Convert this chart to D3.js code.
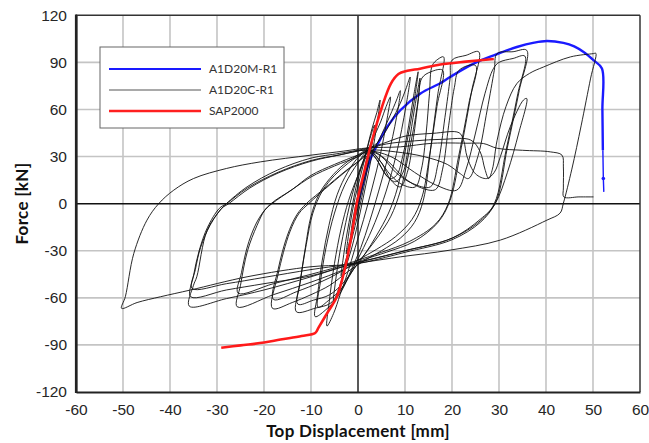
<!DOCTYPE html>
<html>
<head>
<meta charset="utf-8">
<script src="https://cdn.jsdelivr.net/npm/d3@7"></script>
<style>
  html, body { margin: 0; padding: 0; background: #fff; }
  svg { display: block; }
</style>
</head>
<body>
<svg id="chart" width="649" height="443"></svg>
<script>
// Axis ticks
const xTicks = [-60, -50, -40, -30, -20, -10, 0, 10, 20, 30, 40, 50, 60];
const yTicks = [-120, -90, -60, -30, 0, 30, 60, 90, 120];

// Series names shown in the legend
const seriesNames = ["A1D20M-R1", "A1D20C-R1", "SAP2000"];

// Monotonic test A1D20M-R1: [top displacement mm, force kN]
const monotonicMain = [
  [0, 0], [1, 12], [2, 23], [3, 31], [4.3, 38.5], [6.2, 48.9], [9, 59.5], [13.3, 70.2],
  [17.5, 76.7], [19.6, 80.7], [24.6, 89.2], [28.9, 94.5], [33.8, 99.8], [37.5, 102.6],
  [40.2, 103.6], [43.7, 102.4], [46, 100.2], [48, 96.6], [50.1, 91.4], [51.9, 86.1],
  [52, 60], [52.1, 34]
];
const monotonicTail = [[52.1, 34], [52.2, 16], [52.3, 7.5]];
const monotonicMarker = [52.2, 16];

// Pushover curve from SAP2000
const sapCurve = [
  [-29.1, -91.8], [-25, -90.3], [-20, -88.5], [-16.5, -86.6], [-12, -84.3], [-9.1, -82.4],
  [-8.4, -79], [-6.6, -69.9], [-4.5, -59.3], [-2.7, -40.2], [-1.3, -19], [-0.2, 1],
  [1.4, 21.3], [3, 40.4], [5.1, 61.6], [7, 76.5], [8.6, 82.6], [10.5, 84.6], [13.2, 86],
  [17.5, 88.6], [23, 90.5], [28.9, 92.2]
];

// Cyclic test A1D20C-R1, one row per loading cycle
const cyclicCycles = [
  [[0, 0], [0.6, 10], [1.3, 20], [1.5, 23], [1.1, 16], [0.4, 6], [-0.3, -4], [-1.0, -14], [-1.5, -20], [-1.3, -14], [-0.7, -4], [0, 6]],
  [[1, 16], [1.8, 28], [2.5, 36], [2.2, 28], [1.2, 14], [0.2, 0], [-0.8, -12], [-1.8, -24], [-2.5, -32], [-2.2, -24], [-1.5, -10], [-0.6, 4], [0.4, 16]],
  [[1.4, 28], [2.4, 40], [3.5, 50], [3.1, 40], [2, 22], [0.8, 4], [-0.6, -14], [-1.8, -28], [-2.8, -38], [-3.6, -46], [-3.2, -36], [-2.4, -20], [-1.4, -4], [-0.3, 12], [0.8, 24]],
  [[1.8, 34], [3, 48], [4, 58], [4.7, 66], [4.1, 52], [2.9, 30], [1.4, 8], [0, -12], [-1.5, -30], [-3, -44], [-4.2, -55], [-5.2, -62], [-4.8, -50], [-3.8, -30], [-2.6, -12], [-1.2, 6], [0.2, 20], [1.5, 30]],
  [[3, 40], [4.8, 52], [6, 62], [6.9, 68], [6.3, 56], [4.8, 32], [3, 10], [1.2, -10], [-0.6, -28], [-2.2, -44], [-3.8, -58], [-5.2, -70], [-6.6, -78], [-6.1, -62], [-5, -38], [-3.6, -16], [-2, 2], [0, 18], [1.8, 30]],
  [[3.2, 34], [5, 44], [6.8, 56], [8.2, 66], [9, 72], [8.2, 55], [6.4, 30], [4.4, 8], [2.4, -12], [0.6, -28], [-1.4, -42], [-3.2, -54], [-5, -62], [-7, -68], [-9.1, -72], [-8.6, -58], [-7.6, -36], [-6.2, -14], [-4.4, 6], [-2.2, 20], [0.2, 30], [2, 34]],
  [[4.5, 40], [7, 52], [9, 64], [10.3, 74], [11.1, 80.7], [10.2, 62], [8.2, 32], [6, 8], [3.6, -12], [1.2, -28], [-1.2, -42], [-3.5, -54], [-6, -61], [-8.5, -66], [-8, -50], [-6.8, -28], [-5, -6], [-2.8, 12], [0, 26], [2, 33]],
  [[3.5, 30], [5.2, 22], [6.8, 16], [8.2, 18], [9.5, 30], [10.8, 50], [11.8, 68], [12.8, 84], [12, 66], [10.2, 36], [8.4, 10], [6.5, -6], [4, -20], [1.5, -32], [-1, -42], [-3, -52], [-5.9, -63.5], [-9, -66.5], [-13.1, -68.9], [-12.4, -52], [-11.2, -28], [-10, -8], [-8.3, 6], [-6, 16], [-3, 25], [0, 31], [2, 34]],
  [[4, 28], [6, 18], [8, 14], [9.6, 20], [10.8, 38], [12, 60], [12.8, 74], [13.2, 80], [12.6, 62], [10.8, 32], [9, 8], [7, -8], [4.5, -20], [2, -30], [-0.5, -40], [-3, -50], [-6, -58], [-9.5, -61.5], [-12.8, -64], [-12.2, -48], [-11, -26], [-9.6, -6], [-7.6, 8], [-5, 18], [-2, 26], [1, 32], [2.5, 34]],
  [[4.5, 28], [7, 18], [9.5, 12], [12.2, 10.7], [13.5, 22], [14.5, 45], [15.2, 70], [15.8, 88], [17, 92], [18.2, 93.5], [17, 70], [15.5, 36], [13.9, 2.2], [12, -12], [9, -22], [5, -30], [1.5, -36], [-2, -43], [-6, -52], [-10, -58], [-14, -63], [-18.2, -66.7], [-17, -45], [-14.5, -18], [-12.5, -6], [-10.5, 0], [-6, 12], [-2, 22], [1, 29], [2.5, 33]],
  [[5, 26], [7, 15], [9, 10.7], [10.5, 20], [11.8, 42], [12.8, 65], [13.6, 80], [15.5, 84], [18, 85], [16.8, 62], [15.2, 30], [13.6, 4], [11.5, -10], [8, -21], [4, -29], [0, -36], [-4, -44], [-8, -50], [-13, -56], [-18, -61], [-17, -42], [-15, -20], [-13, -7], [-11, 0], [-7, 10], [-3, 20], [0.5, 28], [2.5, 33]],
  [[5, 30], [8, 20], [11.5, 13], [15.4, 10.7], [17, 25], [18.5, 55], [19.6, 80], [20, 91.4], [23, 94.5], [25.7, 96.7], [24.2, 72], [22, 36], [19.6, 2.2], [17, -12], [12, -24], [6, -31], [1, -36], [-3, -42], [-10, -50], [-18, -58], [-25.7, -65.7], [-25, -52], [-23.5, -30], [-21.5, -14], [-19.8, -4], [-18.3, 0], [-14, 9], [-10, 17], [-5, 24], [0, 30], [2.5, 34]],
  [[6, 28], [10, 16], [13.5, 10], [16.5, 9], [18, 22], [19.3, 50], [20.5, 74], [21.5, 85], [25, 88], [23.6, 64], [21.4, 30], [19.2, 0], [16.5, -13], [11, -24], [5, -31], [0, -36], [-4, -40], [-10, -45], [-18, -51], [-25.5, -57], [-24.8, -44], [-23.2, -24], [-21, -9], [-18.5, 0], [-14, 9], [-10, 18], [-5, 25], [0, 31], [2.5, 34]],
  [[8, 33], [14, 30], [19, 25], [21.8, 19], [23.5, 16], [25.5, 30], [27.5, 60], [29, 85], [29.6, 95.6], [33, 96.8], [35.9, 97.7], [34.3, 72], [31.8, 36], [29.2, 0.3], [26, -10], [20, -22], [10, -30], [2, -36], [-3, -40], [-10, -46.6], [-20, -55], [-28, -60.5], [-35.9, -65.3], [-35, -52], [-34.3, -46.6], [-32.1, -16.9], [-29.3, -4.1], [-28, 0], [-23.6, 10.7], [-17.2, 21.3], [-10, 29], [-4, 32], [1.5, 35]],
  [[5, 38], [10, 43], [16, 44.8], [21.5, 45.2], [22.5, 40], [23.2, 30], [25, 19], [27.4, 16], [29, 20], [30.3, 30], [32.4, 49], [35.2, 66], [35.9, 67], [34.2, 45], [31.8, 20], [29.2, 0], [26, -12], [20, -23], [10, -31], [2, -37], [-3, -40], [-10, -46], [-20, -51], [-28, -55], [-35.6, -59.3], [-35, -46], [-33.8, -30], [-32, -15], [-29.5, -3], [-28, 0], [-23.5, 10], [-17, 20], [-10, 27.5], [-4, 31], [1.5, 34]],
  [[7, 30], [12, 20], [16.5, 12], [21, 8.6], [23, 22], [25, 45], [27, 70], [28.8, 86], [30, 90], [33, 92.5], [35.5, 94], [34, 70], [31.5, 34], [29, 0], [26, -11], [20, -22], [10, -30], [2, -36], [-3, -39], [-10, -42], [-20, -47], [-28, -51], [-35.3, -54], [-34.6, -42], [-33.5, -28], [-31.5, -14], [-29, -3], [-27.5, 0], [-23, 10], [-17, 19.5], [-10, 27], [-4, 31], [1.5, 34.5]],
  [[6, 38], [12, 40], [18, 41], [24, 40.5], [26, 33], [27, 22], [27.8, 16], [28.6, 22], [29.6, 40.4], [31.5, 62], [33.8, 76.5], [36.5, 83], [39.5, 87.1], [45.2, 93.5], [50.1, 95.6], [50.6, 95.8], [49.5, 80], [47.5, 50], [45.5, 22], [43.7, 0.3], [43, -6], [40.2, -10.5], [30.3, -23.2], [19.6, -29.6], [9, -33.9], [2, -37], [-3, -39], [-10, -40.2], [-23.6, -46.6], [-35.6, -55], [-42, -59.3], [-47, -63], [-50.3, -66.7], [-49.5, -59.3], [-47.7, -31.7], [-44.9, -10.5], [-42.4, 0], [-39.2, 8.6], [-35, 16], [-28, 22.4], [-20.8, 26.6], [-10, 30.9], [-3, 33.5], [2, 35.5]],
  [[9, 36.2], [16, 38.5], [23.2, 38.5], [26.7, 38.3], [29.6, 35.3], [35, 34], [40.9, 33], [43.4, 30.9], [43.7, 23.4], [43.7, 10], [43.8, 4.3], [47, 4.3], [50.1, 4.3]]
];

const svg = d3.select("#chart");
const W = 649, H = 443;
const plot = { left: 76, right: 640, top: 15.3, bottom: 392 };

const x = d3.scaleLinear().domain([-60, 60]).range([plot.left, plot.right]);
const y = d3.scaleLinear().domain([-120, 120]).range([plot.bottom, plot.top]);

svg.append("rect").attr("width", W).attr("height", H).attr("fill", "#fff");

// Grid
const grid = svg.append("g");
grid.selectAll("line.gx").data(xTicks.filter(d => d !== 0 && Math.abs(d) !== 60)).join("line")
  .attr("x1", d => x(d)).attr("x2", d => x(d))
  .attr("y1", plot.top).attr("y2", plot.bottom)
  .attr("stroke", "#c4c4c4").attr("stroke-width", 1.6);
grid.selectAll("line.gy").data(yTicks.filter(d => d !== 0 && Math.abs(d) !== 120)).join("line")
  .attr("x1", plot.left).attr("x2", plot.right)
  .attr("y1", d => y(d)).attr("y2", d => y(d))
  .attr("stroke", "#c4c4c4").attr("stroke-width", 1.6);

// Zero lines
svg.append("line").attr("x1", x(0)).attr("x2", x(0)).attr("y1", plot.top).attr("y2", plot.bottom)
  .attr("stroke", "#222").attr("stroke-width", 1.5);
svg.append("line").attr("x1", plot.left).attr("x2", plot.right).attr("y1", y(0)).attr("y2", y(0))
  .attr("stroke", "#111").attr("stroke-width", 1.5);

// Frame
svg.append("line").attr("x1", plot.left).attr("x2", plot.right).attr("y1", plot.top).attr("y2", plot.top)
  .attr("stroke", "#333").attr("stroke-width", 1.5);
svg.append("line").attr("x1", plot.right).attr("x2", plot.right).attr("y1", plot.top).attr("y2", plot.bottom)
  .attr("stroke", "#333").attr("stroke-width", 1.5);

// Axes with the tick labels (plain hyphen for negatives)
const fmt = d => String(d);
const xAxis = d3.axisBottom(x).tickValues(xTicks).tickFormat(fmt).tickSize(0).tickPadding(12);
const yAxis = d3.axisLeft(y).tickValues(yTicks).tickFormat(fmt).tickSize(0).tickPadding(9);
const gx = svg.append("g").attr("transform", `translate(0,${plot.bottom})`).call(xAxis);
const gy = svg.append("g").attr("transform", `translate(${plot.left},0)`).call(yAxis);
[gx, gy].forEach(g => {
  g.select(".domain").attr("stroke", "#222").attr("stroke-width", 2.2);
  g.selectAll("text").attr("font-family", "'Liberation Sans', Arial, sans-serif")
    .attr("font-size", 15.5).attr("fill", "#262626");
});

const line = d3.line().x(d => x(d[0])).y(d => y(d[1]));
const smooth = d3.line().x(d => x(d[0])).y(d => y(d[1])).curve(d3.curveCatmullRom.alpha(0.5));

// Monotonic test (beneath the cyclic loops)
svg.append("path").datum(monotonicMain)
  .attr("d", smooth).attr("fill", "none")
  .attr("stroke", "#1a1aff").attr("stroke-width", 2.4);
svg.append("path").datum(monotonicTail)
  .attr("d", line).attr("fill", "none")
  .attr("stroke", "#1a1aff").attr("stroke-width", 1.4);
svg.append("circle").attr("cx", x(monotonicMarker[0])).attr("cy", y(monotonicMarker[1]))
  .attr("r", 1.8).attr("fill", "#1a1aff");

// Cyclic test: one continuous path through all cycles
const cyclicPath = cyclicCycles.flat();
svg.append("path").datum(cyclicPath)
  .attr("d", smooth).attr("fill", "none")
  .attr("stroke", "#111").attr("stroke-width", 0.9).attr("stroke-linejoin", "round");

// SAP2000 pushover
svg.append("path").datum(sapCurve)
  .attr("d", smooth).attr("fill", "none")
  .attr("stroke", "#ff1a1a").attr("stroke-width", 2.6).attr("stroke-linejoin", "round");

// Left frame edge drawn over the grid
svg.append("line").attr("x1", plot.left).attr("x2", plot.left).attr("y1", plot.top - 0.8).attr("y2", plot.bottom + 1)
  .attr("stroke", "#222").attr("stroke-width", 2.2);

// Legend
const legend = svg.append("g").attr("transform", "translate(100,47)");
legend.append("rect").attr("width", 184).attr("height", 81)
  .attr("fill", "#fff").attr("stroke", "#666").attr("stroke-width", 1);
const legendStyles = [
  { color: "#1a1aff", width: 2 },
  { color: "#555", width: 1.2 },
  { color: "#ff2020", width: 2.4 }
];
seriesNames.forEach((name, i) => {
  const yy = 22 + i * 21;
  legend.append("line").attr("x1", 9).attr("x2", 101).attr("y1", yy).attr("y2", yy)
    .attr("stroke", legendStyles[i].color).attr("stroke-width", legendStyles[i].width);
  legend.append("text").attr("x", 109).attr("y", yy + 4).text(name)
    .attr("font-family", "Lato, 'Open Sans', sans-serif").attr("font-size", 12).attr("fill", "#333");
});

// Axis titles
svg.append("text").attr("x", x(0)).attr("y", 437).attr("text-anchor", "middle")
  .attr("font-family", "Lato, 'Open Sans', sans-serif").attr("font-weight", "bold")
  .attr("font-size", 17).attr("letter-spacing", 0.3).attr("fill", "#111").text("Top Displacement [mm]");
svg.append("text").attr("transform", `translate(28,${y(0)}) rotate(-90)`).attr("text-anchor", "middle")
  .attr("font-family", "Lato, 'Open Sans', sans-serif").attr("font-weight", "bold")
  .attr("font-size", 17).attr("letter-spacing", 0.3).attr("fill", "#111").text("Force [kN]");
</script>
</body>
</html>
